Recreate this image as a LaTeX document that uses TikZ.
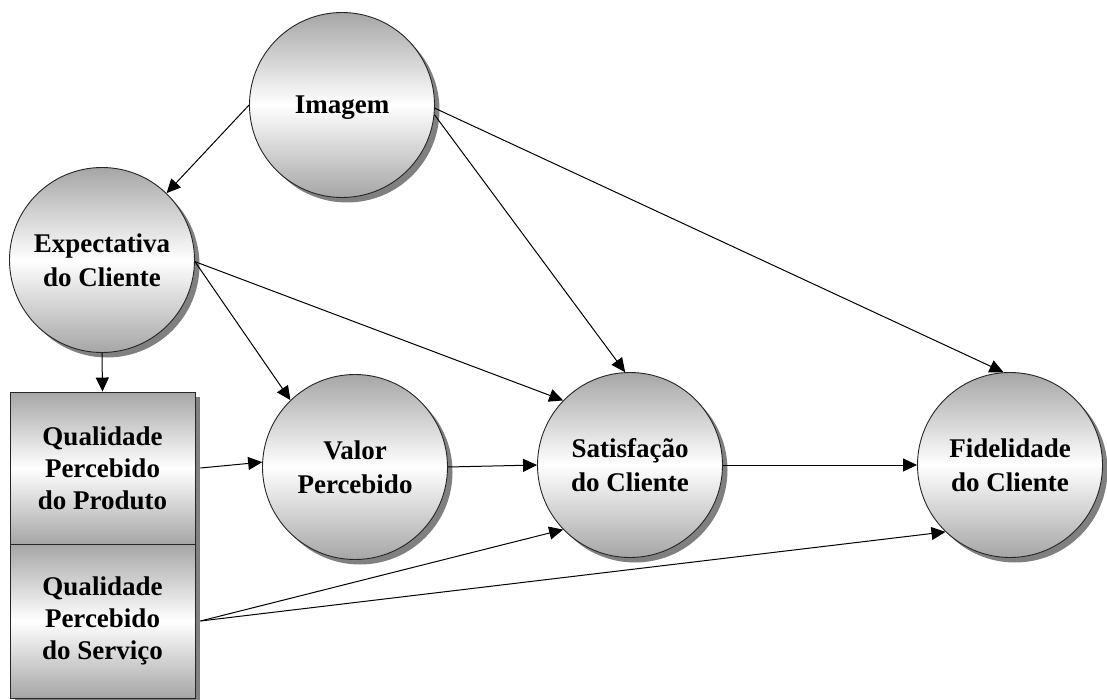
\documentclass[tikz,border=0pt]{standalone}
\usepackage{fontspec}
\setmainfont{Liberation Serif}
\usetikzlibrary{arrows.meta,shadows}
\begin{document}
\begin{tikzpicture}[x=1pt,y=-1pt,
  shade3/.style={top color=black!35,bottom color=black!35,middle color=white},
  shad/.style={drop shadow={shadow xshift=5pt,shadow yshift=-5pt,fill=black!50,opacity=1}},
  bub/.style={circle,draw=black!85,line width=0.9pt,minimum size=185pt,inner sep=0pt,
    shade3,shad,font=\fontsize{27}{34}\selectfont\bfseries,align=center},
  qbox/.style={rectangle,draw=black!85,line width=0.9pt,minimum width=185pt,inner sep=0pt,
    shade3,shad,font=\fontsize{27}{32}\selectfont\bfseries,align=center},
  arr/.style={-{Triangle[length=14pt,width=13pt]},line width=1pt}
]
\useasboundingbox (0,0) rectangle (1107,700);

\node[bub,text depth=0pt] (img) at (342,105) {Imagem};
\node[bub] (exp) at (102,260) {Expectativa\\do Cliente};
\node[bub] (val) at (355,467) {Valor\\Percebido};
\node[bub] (sat) at (630,465) {Satisfação\\do Cliente};
\node[bub] (fid) at (1010,465) {Fidelidade\\do Cliente};

\node[qbox,minimum height=152pt] (qp) at (102.5,468) {Qualidade\\Percebido\\do Produto};
\node[qbox,minimum height=154pt] (qs) at (102.5,621) {Qualidade\\Percebido\\do Serviço};

\coordinate (qpo) at ([xshift=5pt]qp.east);
\coordinate (qso) at ([xshift=5pt]qs.east);

\draw[arr] (img.180) -- (exp.46);
\draw[arr] (img.-6) -- (sat.93);
\draw[arr] (img.-2) -- (fid.94);
\draw[arr] (exp.-1) -- (val.134);
\draw[arr] (exp.-1) -- (sat.136);
\draw[arr] (exp.south) -- (qp.north);
\draw[arr] (qpo) -- (val.177);
\draw[arr] (val.east) -- (sat.west);
\draw[arr] (sat.east) -- (fid.west);
\draw[arr] (qso) -- (sat.224);
\draw[arr] (qso) -- (fid.226);
\end{tikzpicture}
\end{document}
